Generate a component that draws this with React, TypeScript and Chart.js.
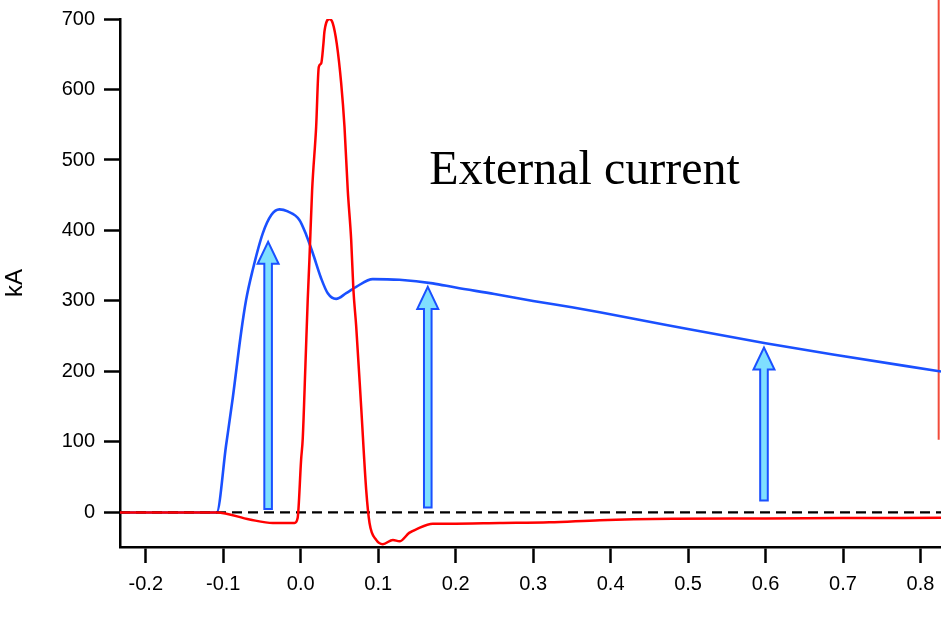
import React, { useEffect, useRef } from "react";
import { Chart, registerables } from "chart.js";

Chart.register(...registerables);

// ---- data (x axis units as shown, y in kA) ----
const X_MIN = -0.2333;
const X_MAX = 0.8265;
const Y_MIN = -49;
const Y_MAX = 700;

const blueX = [-0.2333, -0.1085, -0.0964, -0.0878, -0.077, -0.0706, -0.062, -0.049, -0.038, -0.0275, -0.0168, -0.0017, 0.007, 0.0155, 0.0264, 0.0349, 0.0457, 0.0587, 0.0716, 0.093, 0.1275, 0.1705, 0.2, 0.25, 0.3, 0.35, 0.386, 0.472, 0.6, 0.687, 0.8265];
const blueY = [0, 0, 95, 162, 255, 301, 344, 396, 422, 430, 427, 415, 394, 368, 332, 311, 303, 311, 320, 331, 330, 325, 319, 310, 300, 291, 284, 266, 240, 224, 200];

const redX = [-0.2333, -0.1085, -0.066, -0.036, -0.008, -0.004, 0.0005, 0.0026, 0.006, 0.009, 0.0112, 0.0147, 0.0199, 0.0233, 0.0264, 0.0293, 0.0306, 0.0371, 0.0413, 0.0465, 0.0522, 0.0565, 0.0607, 0.0651, 0.068, 0.0716, 0.078, 0.0845, 0.0888, 0.0974, 0.106, 0.119, 0.1275, 0.14, 0.149, 0.1705, 0.192, 0.257, 0.321, 0.386, 0.48, 0.6, 0.7, 0.8265];
const redY = [0, 0, -10, -15, -15, -8, 75, 105, 207, 301, 358, 457, 547, 632, 637, 665, 682, 700, 694, 665, 609, 547, 457, 387, 316, 264, 150, 32, -15, -39, -45, -39, -41, -29, -24, -16, -16, -15, -14, -11, -9, -8.5, -8, -7.5];

const edgeLineX = [0.8235, 0.8235];
const edgeLineY = [103, 727];

const zeroLineX = [X_MIN, X_MAX];
const zeroLineY = [0, 0];

const arrowX = [-0.0421, 0.164, 0.598];
const arrowBase = [5, 7, 17];
const arrowTip = [384, 320, 234];

const xTicks = [-0.2, -0.1, 0.0, 0.1, 0.2, 0.3, 0.4, 0.5, 0.6, 0.7, 0.8];
const yTicks = [0, 100, 200, 300, 400, 500, 600, 700];

const annotationText = "External current";
const annotationX = 0.166;
const annotationY = 466;

const zip = (xs: number[], ys: number[]) => xs.map((x, i) => ({ x, y: ys[i] }));

const FONT = '"Liberation Sans", Arial, sans-serif';

const arrowPlugin = {
  id: "arrows",
  afterDatasetsDraw(chart: any) {
    const { ctx, scales } = chart;
    const xs = scales.x;
    const ys = scales.y;
    ctx.save();
    arrowX.forEach((ax, i) => {
      const px = xs.getPixelForValue(ax);
      const pb = ys.getPixelForValue(arrowBase[i]);
      const pt = ys.getPixelForValue(arrowTip[i]);
      const headH = 22;
      const headW = 10.5;
      const shaftW = 3.8;
      ctx.beginPath();
      ctx.moveTo(px - shaftW, pb);
      ctx.lineTo(px - shaftW, pt + headH);
      ctx.lineTo(px - headW, pt + headH);
      ctx.lineTo(px, pt);
      ctx.lineTo(px + headW, pt + headH);
      ctx.lineTo(px + shaftW, pt + headH);
      ctx.lineTo(px + shaftW, pb);
      ctx.closePath();
      ctx.fillStyle = "#7fdfff";
      ctx.fill();
      ctx.lineWidth = 2;
      ctx.strokeStyle = "#1a50ff";
      ctx.lineJoin = "miter";
      ctx.stroke();
    });
    ctx.fillStyle = "#000";
    ctx.font = '48px "Liberation Serif", "Times New Roman", serif';
    ctx.textAlign = "left";
    ctx.textBaseline = "alphabetic";
    ctx.fillText(annotationText, xs.getPixelForValue(annotationX), ys.getPixelForValue(annotationY));
    ctx.restore();
  },
};

const zeroPad = (s: any) => {
  s.paddingTop = 0;
  s.paddingBottom = 0;
  s.paddingLeft = 0;
  s.paddingRight = 0;
};

export default function App() {
  const ref = useRef<HTMLCanvasElement | null>(null);
  useEffect(() => {
    if (!ref.current) return;
    const chart = new Chart(ref.current, {
      type: "line",
      data: {
        datasets: [
          {
            data: zip(redX, redY),
            borderColor: "#ff0000",
            borderWidth: 2.5,
            pointRadius: 0,
            cubicInterpolationMode: "monotone",
            order: 0,
          },
          {
            data: zip(zeroLineX, zeroLineY),
            borderColor: "#000",
            borderWidth: 2.3,
            borderDash: [10, 6],
            pointRadius: 0,
            order: 1,
          },
          {
            data: zip(blueX, blueY),
            borderColor: "#1a50ff",
            borderWidth: 2.6,
            pointRadius: 0,
            cubicInterpolationMode: "monotone",
            order: 2,
          },
          {
            data: zip(edgeLineX, edgeLineY),
            borderColor: "#f24b3a",
            borderWidth: 2,
            pointRadius: 0,
            clip: false,
            order: 3,
          },
        ],
      } as any,
      options: {
        animation: false,
        responsive: false,
        events: [],
        layout: { padding: { top: 19, right: 0, left: 0, bottom: 0 } },
        plugins: { legend: { display: false }, tooltip: { enabled: false } },
        scales: {
          x: {
            type: "linear",
            min: X_MIN,
            max: X_MAX,
            afterFit: (s: any) => { s.height = 73; zeroPad(s); },
            afterBuildTicks: (s: any) => { s.ticks = xTicks.map((v) => ({ value: v })); },
            grid: { drawOnChartArea: false, drawTicks: true, tickLength: 16, tickWidth: 2.5, tickColor: "#000" },
            border: { display: true, color: "#000", width: 2.5 },
            ticks: {
              color: "#000",
              padding: 9,
              maxRotation: 0,
              autoSkip: false,
              font: { family: FONT, size: 20 },
              callback: (v: any) => (Math.abs(Number(v)) < 1e-9 ? "0.0" : Number(v).toFixed(1)),
            },
          },
          y: {
            type: "linear",
            min: Y_MIN,
            max: Y_MAX,
            afterFit: (s: any) => { s.width = 120; zeroPad(s); },
            afterBuildTicks: (s: any) => { s.ticks = yTicks.map((v) => ({ value: v })); },
            grid: { drawOnChartArea: false, drawTicks: true, tickLength: 16, tickWidth: 2.5, tickColor: "#000" },
            border: { display: true, color: "#000", width: 2.5 },
            title: { display: true, text: "kA", color: "#000", font: { family: FONT, size: 24 }, padding: { top: 1.4, bottom: 4 } },
            ticks: {
              color: "#000",
              padding: 9,
              autoSkip: false,
              font: { family: FONT, size: 20 },
              callback: (v: any) => String(Math.round(Number(v))),
            },
          },
        },
      } as any,
      plugins: [arrowPlugin],
    });
    return () => chart.destroy();
  }, []);
  return (
    <div style={{ position: "absolute", left: 0, top: 0, width: 941, height: 620, background: "#fff" }}>
      <canvas ref={ref} width={941} height={620} />
    </div>
  );
}
